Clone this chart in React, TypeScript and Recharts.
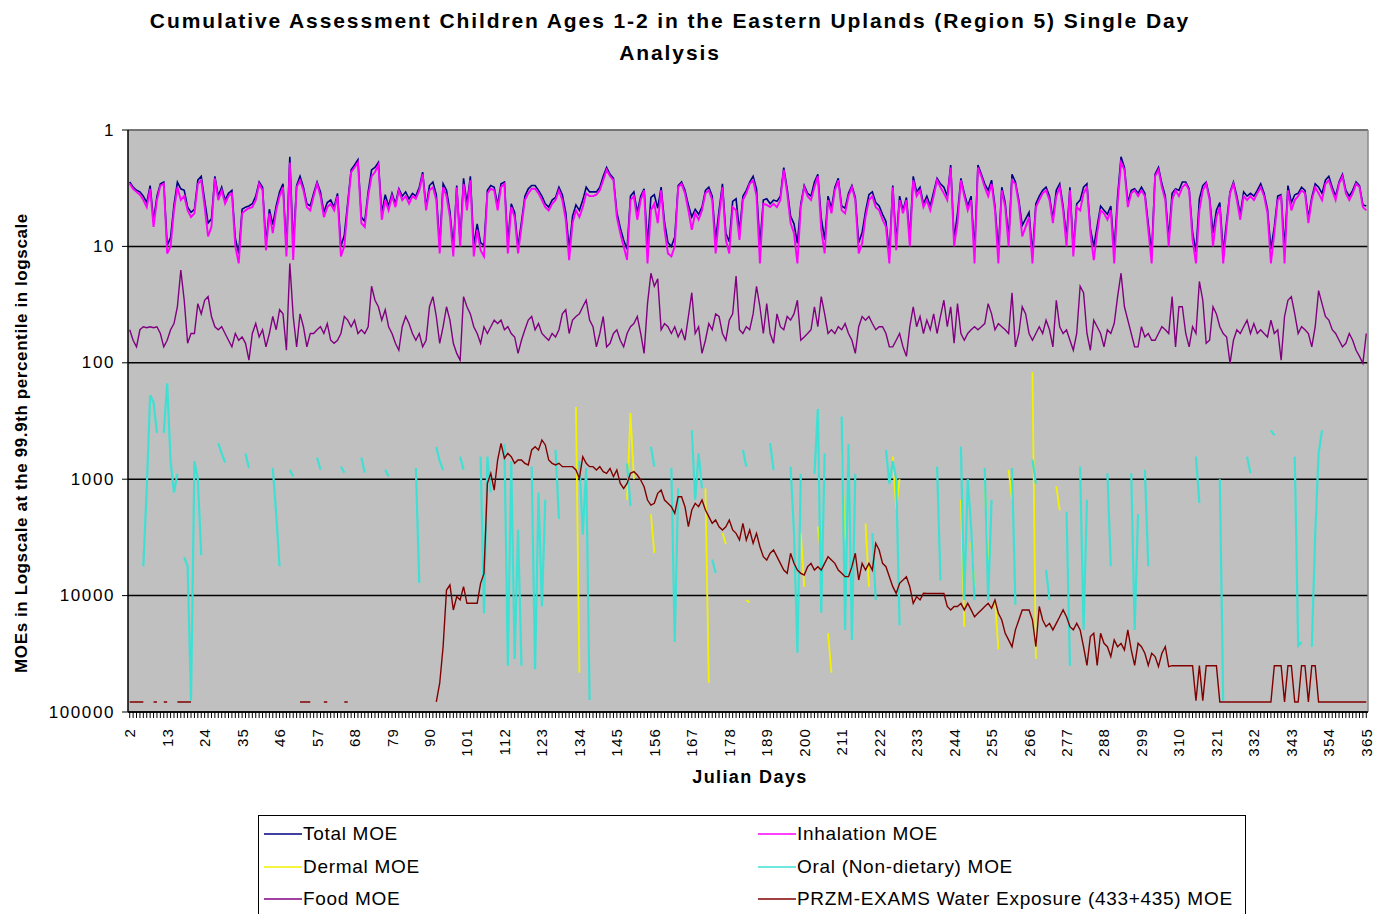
import React from 'react';
import { LineChart, Line, XAxis, YAxis, CartesianGrid, ReferenceLine } from 'recharts';

// ---------- categories / ticks ----------
const FIRST_DAY = 2;
const LAST_DAY = 365;
const dayLabels = [2, 13, 24, 35, 46, 57, 68, 79, 90, 101, 112, 123, 134, 145, 156, 167, 178, 189, 200, 211, 222, 233, 244, 255, 266, 277, 288, 299, 310, 321, 332, 343, 354, 365];
const yTicks = [1, 10, 100, 1000, 10000, 100000];

// ---------- series values (one value per day, starting at day 2) ----------
const totalMOE = [
  2.8, 3.1, 3.3, 3.4, 3.7, 4.2, 3.0, 6.0, 3.7, 2.9,
  2.8, 9.8, 8.4, 4.4, 2.8, 3.2, 3.3, 4.6, 5.1, 4.8,
  2.7, 2.5, 4.0, 6.3, 5.8, 2.5, 3.7, 3.1, 4.0, 3.5,
  3.3, 8.5, 11.5, 4.8, 4.6, 4.5, 4.3, 3.7, 2.8, 3.1,
  9.4, 4.8, 6.5, 4.5, 3.4, 2.9, 10.6, 1.7, 9.9, 3.0,
  2.5, 3.1, 4.3, 4.5, 3.5, 2.8, 3.4, 5.1, 4.2, 4.0,
  4.6, 3.5, 10.0, 8.0, 4.2, 2.2, 2.0, 1.8, 5.6, 6.1,
  3.4, 2.2, 2.1, 1.9, 5.2, 3.6, 4.5, 3.5, 4.3, 3.2,
  3.7, 3.4, 3.9, 3.5, 3.7, 3.1, 2.3, 4.6, 3.0, 2.8,
  3.6, 9.8, 2.9, 3.3, 5.0, 10.3, 3.0, 9.1,
  2.6, 4.3, 2.5, 9.8, 6.4, 9.3, 9.8, 3.3, 3.0, 3.1,
  4.4, 2.9, 2.8, 9.3, 4.3, 5.1, 10.1, 6.2, 3.7, 3.2,
  3.0, 3.0, 3.3, 3.7, 4.3, 4.6, 4.0, 3.8, 3.1, 3.6,
  5.1, 10.6, 5.5, 4.4, 4.9, 4.0, 3.1, 3.4, 3.4, 3.4,
  3.1, 2.5, 2.1, 2.4, 2.6, 5.1, 6.9, 8.8, 10.6, 3.7,
  3.4, 5.1, 3.7, 3.2, 9.6, 3.8, 3.6, 4.7, 3.1, 6.2,
  9.3, 10.0, 8.3, 3.0, 2.8, 3.3, 4.4, 5.6, 4.8, 5.3,
  4.6, 3.3, 3.1, 3.7, 8.8, 4.9, 2.9, 7.7, 9.1, 4.1,
  3.9, 7.5, 3.7, 3.3, 2.8, 2.5, 3.2, 9.8, 4.0, 3.9,
  4.3, 4.0, 4.1, 3.7, 2.1, 3.2, 5.5, 6.4, 9.4, 4.3,
  3.0, 3.5, 3.7, 2.8, 2.4, 5.7, 8.8, 3.7, 4.7, 3.1,
  2.6, 4.5, 4.7, 3.5, 3.0, 3.8, 9.3, 7.6, 5.0, 3.6,
  3.4, 4.2, 4.5, 5.3, 6.1, 11.8, 3.0, 9.2,
  3.7, 4.9, 3.8, 8.3, 2.5, 3.4, 3.1, 4.3, 3.7, 4.5,
  3.4, 2.6, 2.9, 3.1, 3.7, 2.0, 8.7, 5.2, 2.6, 3.5,
  4.5, 3.7, 10.9, 2.0, 2.4, 2.9, 3.3, 2.7, 4.5, 10.7,
  3.1, 4.2, 8.5, 2.4, 2.8, 4.0, 6.6, 5.8, 5.1, 11.5,
  4.3, 3.7, 3.3, 3.1, 3.7, 5.8, 3.3, 2.9, 4.5, 8.4,
  3.1, 10.6, 4.3, 4.0, 3.1, 2.9, 7.0, 10.0, 6.7, 4.5,
  4.9, 5.3, 4.5, 10.7, 3.7, 1.7, 2.1, 4.2, 3.3, 3.2,
  3.5, 3.1, 3.5, 6.4, 11.5, 2.4, 2.1, 2.9, 3.7, 8.5,
  3.5, 3.2, 3.3, 2.8, 2.8, 3.2, 7.5, 11.2, 3.9, 3.0,
  2.8, 3.8, 7.7, 4.9, 4.2, 11.2, 6.1, 3.4, 2.8, 3.7,
  5.3, 3.4, 3.7, 3.5, 3.7, 3.3, 2.9, 3.5, 4.8, 10.6,
  6.8, 3.7, 3.6, 10.4, 3.0, 4.2, 3.6, 3.5, 3.1, 3.3,
  5.7, 3.8, 2.9, 3.1, 3.5, 2.7, 2.5, 3.1, 3.7, 2.8,
  2.4, 3.3, 3.7, 3.3, 2.8, 3.0, 4.4, 4.5,
];

const inhalationMOE = [
  2.9, 3.2, 3.4, 3.6, 4.0, 4.6, 3.2, 6.8, 4.0, 3.0,
  2.9, 11.5, 10, 4.9, 3.1, 4.0, 3.7, 4.9, 5.6, 5.2,
  2.9, 2.7, 4.6, 8.2, 6.8, 2.6, 4.0, 3.3, 4.3, 3.7,
  3.5, 10, 14, 5.2, 4.9, 4.7, 4.6, 4.0, 2.9, 3.3,
  10.8, 5.2, 7.7, 4.9, 3.7, 3.1, 12.2, 1.9, 13.1, 3.1,
  2.7, 3.3, 4.6, 4.9, 3.7, 2.9, 3.7, 5.6, 4.6, 4.3,
  4.9, 3.7, 12.2, 10, 4.6, 2.3, 2.1, 1.9, 6.3, 6.8,
  3.7, 2.5, 2.3, 2.0, 5.9, 4.0, 4.9, 3.7, 4.6, 3.3,
  4.0, 3.7, 4.3, 3.7, 3.9, 3.3, 2.4, 4.9, 3.3, 3.1,
  4.0, 11.5, 3.1, 3.7, 5.6, 12.2, 3.1, 10,
  2.9, 4.9, 2.7, 12.2, 7.2, 10.8, 12.2, 3.5, 3.2, 3.3,
  4.9, 3.1, 2.9, 11.5, 4.6, 5.6, 11.5, 6.8, 4.0, 3.5,
  3.2, 3.2, 3.5, 4.0, 4.6, 4.9, 4.3, 4.0, 3.3, 4.0,
  5.9, 13.1, 6.3, 4.9, 5.6, 4.6, 3.5, 3.7, 3.7, 3.6,
  3.3, 2.7, 2.2, 2.5, 2.7, 5.6, 7.7, 10, 13.1, 4.0,
  3.7, 5.9, 4.0, 3.3, 14, 4.9, 4.3, 6.3, 3.3, 7.2,
  11.5, 12.2, 10, 3.1, 2.9, 3.5, 4.9, 7.2, 5.2, 5.9,
  4.9, 3.5, 3.3, 4.0, 11.5, 5.6, 3.1, 8.8, 11.5, 4.6,
  4.9, 8.8, 4.0, 3.5, 2.9, 2.7, 3.7, 14, 4.3, 4.4,
  4.6, 4.3, 4.6, 4.0, 2.2, 3.5, 6.3, 7.7, 14, 4.6,
  3.1, 3.7, 4.0, 3.1, 2.5, 7.2, 11.5, 4.0, 5.2, 3.3,
  2.7, 4.9, 5.2, 3.7, 3.1, 4.0, 11.5, 9.4, 5.6, 4.0,
  3.7, 4.6, 4.9, 5.9, 6.8, 14, 3.1, 10.8,
  4.0, 5.2, 4.0, 10, 2.7, 3.7, 3.3, 4.6, 4.0, 4.9,
  3.7, 2.7, 3.1, 3.5, 4.0, 2.1, 10, 6.3, 2.7, 3.7,
  4.9, 4.0, 14, 2.1, 2.5, 3.1, 3.7, 2.9, 4.9, 14,
  3.3, 4.6, 10, 2.7, 2.9, 4.3, 8.2, 6.8, 5.6, 14,
  4.6, 4.0, 3.5, 3.3, 4.0, 6.3, 3.7, 3.1, 4.9, 10,
  3.3, 12.2, 4.6, 4.9, 3.5, 3.1, 7.7, 13.1, 7.7, 4.9,
  5.2, 5.9, 4.9, 14, 4.3, 1.9, 2.2, 4.6, 3.5, 3.3,
  3.7, 3.3, 3.7, 7.2, 14, 2.5, 2.2, 3.1, 4.0, 10,
  4.0, 3.3, 3.7, 3.1, 2.9, 3.3, 8.8, 14, 4.9, 3.3,
  2.9, 4.0, 10, 5.6, 4.6, 14, 6.8, 3.5, 2.9, 4.0,
  5.9, 3.7, 4.0, 3.7, 4.0, 3.5, 3.1, 3.7, 5.2, 14,
  7.7, 4.0, 3.7, 14, 3.3, 4.9, 4.0, 3.7, 3.3, 3.5,
  6.3, 4.0, 3.1, 3.5, 4.0, 2.9, 2.7, 3.3, 4.0, 2.9,
  2.5, 3.5, 4.0, 3.5, 2.9, 3.1, 4.6, 4.9,
];

const foodMOE = [
  52, 64, 73, 52, 49, 50, 49, 50, 49, 56,
  73, 64, 52, 46, 33, 16, 29, 68, 56, 56,
  31, 38, 29, 27, 40, 49, 52, 49, 56, 64,
  73, 56, 64, 60, 68, 95, 56, 46, 60, 52,
  73, 56, 40, 52, 35, 38, 78, 14, 40, 73,
  38, 49, 73, 56, 56, 52, 49, 56, 46, 64,
  68, 64, 56, 40, 43, 49, 43, 56, 52, 56,
  49, 22, 29, 33, 43, 35, 49, 56, 68, 78,
  49, 40, 46, 56, 64, 56, 73, 64, 33, 27,
  40, 68, 49, 33, 43, 68, 83, 95,
  27, 33, 38, 49, 56, 68, 49, 56, 49, 43,
  46, 43, 52, 49, 56, 60, 83, 64, 52, 43,
  40, 52, 46, 56, 60, 64, 56, 60, 52, 38,
  35, 56, 43, 40, 38, 33, 29, 43, 49, 73,
  56, 40, 73, 68, 56, 52, 64, 73, 56, 49,
  46, 40, 56, 83, 31, 17, 22, 19, 52, 46,
  49, 56, 49, 60, 52, 64, 40, 25, 56, 49,
  83, 64, 46, 52, 38, 40, 56, 64, 43, 38,
  18, 52, 56, 49, 52, 38, 22, 33, 56, 31,
  56, 68, 38, 49, 52, 40, 43, 38, 29, 64,
  60, 56, 52, 33, 49, 27, 38, 56, 52, 56,
  49, 52, 46, 56, 64, 83, 49, 40, 43, 40,
  46, 52, 49, 49, 56, 73, 73, 64,
  56, 73, 88, 49, 33, 49, 40, 56, 43, 52,
  38, 56, 40, 29, 49, 33, 68, 31, 56, 64,
  56, 52, 49, 52, 49, 46, 31, 38, 52, 46,
  49, 52, 56, 25, 73, 56, 33, 38, 56, 64,
  56, 49, 56, 43, 52, 73, 29, 49, 56, 52,
  64, 78, 56, 22, 25, 56, 78, 43, 49, 56,
  73, 52, 56, 46, 27, 17, 33, 43, 56, 73,
  73, 49, 60, 56, 64, 64, 56, 49, 52, 56,
  27, 73, 33, 33, 56, 73, 49, 56, 20, 29,
  68, 64, 33, 38, 49, 56, 60, 101, 64, 52,
  56, 49, 43, 56, 46, 56, 52, 56, 60, 43,
  56, 52, 95, 40, 29, 27, 38, 56, 49, 52,
  56, 73, 49, 24, 31, 40, 43, 52, 56, 64,
  73, 68, 56, 64, 78, 88, 101, 56,
];

// water exposure: isolated early days [day, MOE], then one value per day from day 92
const waterEarly: [number, number][] = [
  [2, 82000], [3, 82000], [4, 82000], [5, 82000], [6, 82000],
  [9, 82000], [10, 82000],
  [12, 82000], [13, 82000],
  [16, 82000], [17, 82000], [18, 82000], [19, 82000], [20, 82000],
  [52, 82000], [53, 82000], [54, 82000], [55, 82000],
  [59, 82000], [60, 82000],
  [65, 82000], [66, 82000],
];
const WATER_START_DAY = 92;
const waterFromDay92 = [
  82000,
  56600, 27500, 8950, 8110, 13300, 10200, 10900, 8380, 11650, 11650, 11650, 11650,
  7850, 6440, 1086, 890, 1240, 684, 492, 662, 600, 640, 731, 684,
  684, 731, 755, 561, 525, 561, 460, 508, 684, 731, 755, 731,
  780, 780, 780, 780, 833, 983, 640, 731, 780, 780, 833, 780,
  861, 890, 807, 951, 833, 1086, 1200, 1086, 890, 861, 920, 1016,
  1160, 1510, 1667, 1612, 1322, 1240, 1510, 1612, 1722, 1963, 1413, 1413,
  1722, 2560, 1840, 1612, 1722, 1510, 1840, 2099, 2394, 2240, 2560, 2730,
  2560, 2240, 2730, 2919, 3328, 2394, 3328, 2730, 3556, 2919, 3800, 4626,
  4946, 4330, 4056, 4626, 5280, 6030, 6440, 4330, 5280, 6030, 6440, 6650,
  5641, 5280, 6030, 5641, 6030, 5280, 4626, 4946, 5280, 6030, 6440, 6877,
  6877, 5641, 4330, 7350, 5280, 6030, 5280, 6030, 3556, 4056, 5280, 5641,
  6877, 8384, 9570,
  7850, 7350, 6877, 8384, 11650, 10200, 10900, 9560, 9600, 9600, 9600, 9600, 9600, 9600,
  12400, 13280, 12400, 12400, 11650, 13280, 11650, 13280, 15200, 14200, 13280, 12400,
  11650, 12850, 10900, 14200, 16200, 21100, 24000, 27500, 19700, 16200, 13280, 13280,
  13280, 16200, 27500, 12400, 16200, 18500, 17300, 19700, 17300, 15200, 13280, 15200,
  18500, 19700, 17300, 19700, 27500, 39800, 22500, 21100, 39800, 21100, 25700, 27500,
  33400, 24000, 27500, 25700, 29300, 19700, 29300, 39800, 25700, 27500, 31300, 39800,
  31300, 33400, 40700, 31300, 27500, 40700,
  40000, 40000, 40000, 40000, 40000, 40000, 40000,
  80000, 40000, 80000, 40000, 40000, 40000, 40000,
  82000, 82000, 82000, 82000, 82000, 82000, 82000, 82000,
  82000, 82000, 82000, 82000, 82000, 82000, 82000, 82000,
  40000, 40000, 40000, 82000, 40000, 40000, 82000, 82000, 40000, 40000, 82000, 40000, 40000,
  82000, 82000, 82000, 82000, 82000, 82000, 82000, 82000,
  82000, 82000, 82000, 82000, 82000, 82000, 82000,
];

// oral (non-dietary) and dermal: only some days have values [day, MOE]
const oralMOE: [number, number][] = [
  [6, 5600], [7, 1200], [8, 190], [9, 220], [10, 400],
  [12, 400], [13, 150], [14, 700], [15, 1300], [16, 900],
  [18, 4700], [19, 5600],
  [20, 80000], [21, 700], [22, 1000], [23, 4500],
  [28, 490], [29, 600], [30, 720],
  [36, 600], [37, 800],
  [44, 800], [45, 2000], [46, 5600],
  [49, 830], [50, 950],
  [57, 650], [58, 830],
  [64, 780], [65, 880],
  [70, 650], [71, 880],
  [77, 830], [78, 950],
  [86, 800], [87, 7800],
  [92, 530], [93, 700], [94, 830],
  [99, 640], [100, 830],
  [105, 640], [106, 14200], [107, 640], [108, 1300],
  [112, 500], [113, 40000], [114, 700], [115, 35000], [116, 2700], [117, 40000],
  [120, 780], [121, 43000], [122, 1300], [123, 12400], [124, 1500],
  [127, 560], [128, 2200],
  [134, 700], [135, 3000], [136, 800], [137, 79000],
  [148, 730], [149, 1700],
  [155, 525], [156, 780],
  [161, 800], [162, 25000], [163, 1200],
  [167, 380], [168, 1500], [169, 600], [170, 1200],
  [173, 4900], [174, 6400],
  [182, 560], [183, 780],
  [190, 490], [191, 830],
  [196, 780], [197, 2900], [198, 31000], [199, 900],
  [203, 900], [204, 250], [205, 14000], [206, 600],
  [211, 290], [212, 19700], [213, 500], [214, 24000], [215, 900],
  [220, 2900], [221, 10900],
  [224, 560], [225, 1090], [226, 700], [227, 1000], [228, 18000],
  [239, 780], [240, 7400],
  [246, 525], [247, 10900], [248, 1000], [249, 2600], [250, 10900],
  [253, 800], [254, 11000], [255, 1500],
  [261, 800], [262, 12000],
  [267, 680], [268, 1090],
  [271, 6000], [272, 10900],
  [277, 1900], [278, 40000],
  [281, 780], [282, 19700], [283, 1500],
  [289, 890], [290, 5600],
  [296, 890], [297, 19700], [298, 2000],
  [300, 830], [301, 5600],
  [315, 640], [316, 1600],
  [322, 1000], [323, 80000],
  [330, 640], [331, 890],
  [337, 380], [338, 420],
  [344, 640], [345, 27000], [346, 25000],
  [349, 27500], [350, 3000], [351, 600], [352, 380],
];

const dermalMOE: [number, number][] = [
  [133, 240], [134, 46000],
  [148, 1500], [149, 270], [150, 1000],
  [155, 2000], [156, 4300],
  [171, 1200], [172, 56000],
  [176, 2900], [177, 3600],
  [183, 10900], [184, 11500],
  [199, 2900], [200, 8400],
  [204, 2560], [205, 4600],
  [207, 21000], [208, 46000],
  [211, 600], [212, 3300],
  [218, 2400], [219, 8400],
  [226, 640], [227, 1800], [228, 1000],
  [246, 1500], [247, 18500],
  [249, 3500], [250, 8400],
  [253, 1100], [254, 5000],
  [256, 10900], [257, 29000],
  [260, 830], [261, 1500],
  [267, 120], [268, 35000],
  [274, 1150], [275, 1850],
];

// ---------- series meta ----------
const seriesMeta = [
  { key: 'total', name: 'Total MOE', color: '#000080', width: 1.6 },
  { key: 'inhalation', name: 'Inhalation MOE', color: '#FF00FF', width: 1.9 },
  { key: 'dermal', name: 'Dermal MOE', color: '#F2F200', width: 1.8 },
  { key: 'oral', name: 'Oral (Non-dietary) MOE', color: '#3EE0D4', width: 2.2 },
  { key: 'food', name: 'Food MOE', color: '#800080', width: 1.4 },
  { key: 'water', name: 'PRZM-EXAMS Water Exposure (433+435) MOE', color: '#800000', width: 1.4 },
];

// ---------- table built from the arrays ----------
const oralMap = new Map(oralMOE);
const dermalMap = new Map(dermalMOE);
const waterMap = new Map(waterEarly);
waterFromDay92.forEach((v, i) => waterMap.set(WATER_START_DAY + i, v));

const allDays: number[] = [];
for (let d = FIRST_DAY; d <= LAST_DAY; d++) allDays.push(d);

const data = allDays.map((day, i) => ({
  day,
  total: totalMOE[i] ?? null,
  inhalation: inhalationMOE[i] ?? null,
  food: foodMOE[i] ?? null,
  oral: oralMap.get(day) ?? null,
  dermal: dermalMap.get(day) ?? null,
  water: waterMap.get(day) ?? null,
}));

const FONT = '"Liberation Sans", Arial, Helvetica, sans-serif';

const XTick = (props: any) => {
  const { x, y, payload } = props;
  if (!dayLabels.includes(payload.value)) return <g />;
  const ty = y + 8;
  return (
    <text
      x={x}
      y={ty}
      transform={`rotate(-90 ${x} ${ty})`}
      textAnchor="end"
      dominantBaseline="central"
      fontFamily={FONT}
      fontSize={15}
      letterSpacing={1.2}
      fill="#000"
    >
      {payload.value}
    </text>
  );
};

const YTick = (props: any) => {
  const { x, y, payload } = props;
  return (
    <text x={x - 5} y={y} textAnchor="end" dominantBaseline="central" fontFamily={FONT} fontSize={17} letterSpacing={1.6} fill="#000">
      {payload.value}
    </text>
  );
};

export default function App() {
  const legendRows = [
    [seriesMeta[0], seriesMeta[1]],
    [seriesMeta[2], seriesMeta[3]],
    [seriesMeta[4], seriesMeta[5]],
  ];
  return (
    <div style={{ position: 'absolute', left: 0, top: 0, width: 1378, height: 914, background: '#fff', overflow: 'hidden', fontFamily: FONT }}>
      <div
        style={{
          position: 'absolute',
          left: 20,
          top: 5,
          width: 1300,
          textAlign: 'center',
          fontWeight: 'bold',
          fontSize: 21,
          lineHeight: '32px',
          letterSpacing: 1.9,
          color: '#000',
        }}
      >
        Cumulative Assessment Children Ages 1-2 in the Eastern Uplands (Region 5) Single Day
        <br />
        Analysis
      </div>

      <LineChart width={1378} height={914} data={data} margin={{ top: 130, right: 10, bottom: 142, left: 68 }}>
        <CartesianGrid vertical={false} stroke="#000" strokeWidth={1.5} fill="#C0C0C0" fillOpacity={1} />
        <XAxis
          dataKey="day"
          type="number"
          domain={[1.5, 365.5]}
          ticks={allDays}
          interval={0}
          tick={<XTick />}
          tickSize={6}
          height={60}
          stroke="#000"
          axisLine={{ stroke: '#000', strokeWidth: 1.5 }}
          tickLine={{ stroke: '#000' }}
        />
        <YAxis
          scale="log"
          domain={[1, 100000]}
          reversed
          ticks={yTicks}
          interval={0}
          allowDataOverflow
          width={60}
          tickSize={6}
          tick={<YTick />}
          axisLine={{ stroke: '#000', strokeWidth: 1.5 }}
          tickLine={{ stroke: '#000' }}
        />
        <ReferenceLine y={1} stroke="#8A8A8A" strokeWidth={1.5} />
        <ReferenceLine x={365.5} stroke="#8A8A8A" strokeWidth={1.5} />
        {seriesMeta.map((s) => (
          <Line
            key={s.key}
            dataKey={s.key}
            name={s.name}
            stroke={s.color}
            strokeWidth={s.width}
            dot={false}
            type="linear"
            connectNulls={false}
            isAnimationActive={false}
          />
        ))}
      </LineChart>

      <div
        style={{
          position: 'absolute',
          left: 22 - 300,
          top: 443 - 12,
          width: 600,
          height: 24,
          lineHeight: '24px',
          textAlign: 'center',
          transform: 'rotate(-90deg)',
          fontWeight: 'bold',
          fontSize: 17,
          letterSpacing: 0.6,
          color: '#000',
        }}
      >
        MOEs in Logscale at the 99.9th percentile in logscale
      </div>

      <div
        style={{
          position: 'absolute',
          left: 600,
          top: 767,
          width: 300,
          textAlign: 'center',
          fontWeight: 'bold',
          fontSize: 18,
          letterSpacing: 1.4,
          color: '#000',
        }}
      >
        Julian Days
      </div>

      <div
        style={{
          position: 'absolute',
          left: 258,
          top: 815,
          width: 988,
          height: 120,
          border: '1.5px solid #000',
          boxSizing: 'border-box',
          background: '#fff',
        }}
      >
        {legendRows.map((row, ri) => (
          <React.Fragment key={ri}>
            {row.map((s, ci) => (
              <div
                key={s.key}
                style={{
                  position: 'absolute',
                  left: ci === 0 ? 4 : 498,
                  top: 6 + ri * 32.5,
                  height: 24,
                  display: 'flex',
                  alignItems: 'center',
                  fontSize: 19,
                  letterSpacing: 0.7,
                  color: '#000',
                  whiteSpace: 'nowrap',
                }}
              >
                <svg width={40} height={24} style={{ display: 'block' }}>
                  <line x1={1} y1={12} x2={39} y2={12} stroke={s.color} strokeWidth={1.5} />
                </svg>
                <span>{s.name}</span>
              </div>
            ))}
          </React.Fragment>
        ))}
      </div>
    </div>
  );
}
